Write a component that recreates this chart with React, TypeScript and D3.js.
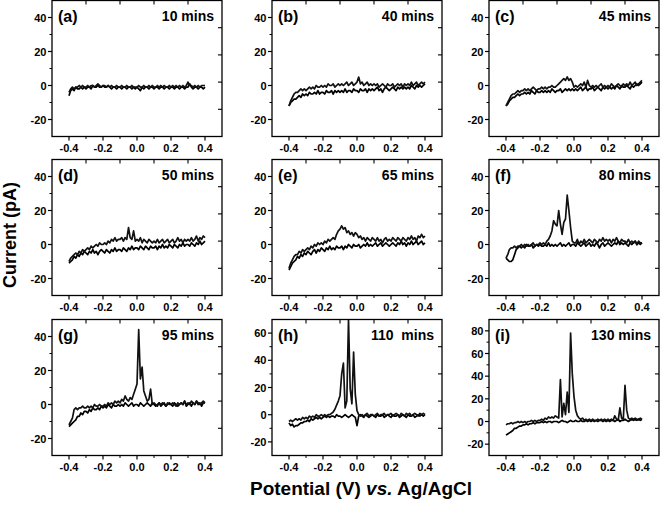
import React from "react";
import * as d3 from "d3";

// Potential grid (V), step 0.01 from -0.4 to 0.4
const POTENTIAL = d3.range(81).map((i) => +(-0.4 + i * 0.01).toFixed(2));

const PANEL_LABELS = ["(a)", "(b)", "(c)", "(d)", "(e)", "(f)", "(g)", "(h)", "(i)"];
const TIME_LABELS = ["10 mins", "40 mins", "45 mins", "50 mins", "65 mins", "80 mins", "95 mins", "110  mins", "130 mins"];
const Y_MAX = [50, 50, 50, 50, 50, 50, 50, 70, 90];
const Y_MIN = -30;
const X_MAJOR = [-0.4, -0.2, 0.0, 0.2, 0.4];
const X_MINOR = [-0.3, -0.1, 0.1, 0.3];

// forward (lower) and reverse (upper) scans, indexed along POTENTIAL
const aFwd = [-6,-3,-2,-3,-1,-2,-2,-1,-2,-1, -2,-1,-1,-2,0,-1,-1,0,-1,-1, 0,-1,-1,0,-1,-2,-1,-1,-2,-1, -1,-2,-1,-1,-2,-1,-1,-2,-1,-2, -1,-2,-3,-1,-2,-1,-1,-2,-1,-1, -2,-1,-1,-2,-1,-1,-2,-1,-1,-2, -1,-1,-2,-1,-1,-2,-1,-1,-2,-1, -1,1,-1,-2,-1,-1,-2,-1,-1,-2, -1];
const aRev = [-4,-2,-1,-2,-1,-1,0,-1,0,-1, -1,0,-1,0,0,-1,0,1,0,-1, 0,0,-1,0,-1,0,-1,-1,0,-1, -1,0,-1,-1,0,-1,-1,0,-1,-1, -1,0,-1,-1,0,-1,-1,0,-1,0, -1,-1,0,-1,0,-1,0,-1,-1,0, -1,0,-1,0,-1,0,-1,0,-1,0, 2,0,0,-1,0,-1,0,-1,0,0, 0];

const bFwd = [-12,-10,-9,-8,-8,-7,-6,-7,-5,-6, -5,-6,-4,-5,-5,-4,-5,-3,-5,-4, -4,-5,-3,-4,-4,-3,-5,-3,-4,-3, -4,-3,-4,-2,-4,-3,-3,-4,-2,-3, -3,-4,-2,-3,-3,-2,-4,-2,-3,-2, -3,-2,-1,-3,-2,-4,-2,-1,-2,-3, -2,-1,-2,-3,-1,-2,-1,-2,-1,-2, -1,-2,0,-1,-2,0,-1,0,-1,0, 1];
const bRev = [-12,-9,-7,-5,-4,-4,-3,-2,-3,-2, -3,-2,-1,-2,-1,-2,0,-1,-1,0, -1,0,-1,1,0,0,1,-1,0,1, 0,1,0,1,2,0,1,2,0,1, 2,5,1,2,0,1,2,0,1,0, 1,0,1,-1,0,1,0,-1,1,0, 0,1,-1,0,1,0,1,-1,1,0, 1,0,2,0,1,2,0,1,2,1, 2];

const cFwd = [-12,-11,-9,-8,-7,-7,-6,-5,-6,-5, -5,-4,-5,-4,-5,-3,-4,-5,-3,-4, -4,-3,-4,-3,-4,-3,-4,-2,-3,-4, -3,-3,-2,-4,-3,-2,-3,-2,-3,-2, -3,-2,-3,-2,-1,-3,-2,-1,-3,-2, -2,-1,-3,-2,-1,-2,-3,-1,-2,-1, -2,-1,-2,-1,-2,0,-1,-2,0,-1, -1,0,-1,-2,0,-1,0,1,0,1, 2];
const cRev = [-12,-10,-8,-6,-5,-5,-4,-3,-4,-3, -3,-2,-3,-2,-3,-2,-1,-2,-3,-2, -2,-1,-2,-1,-2,-1,-1,0,-1,-1, 0,1,2,3,4,3,5,3,4,2, -1,0,-1,0,1,0,2,-1,3,0, -1,0,-1,0,-1,0,1,-1,0,-1, 0,-1,1,0,-1,0,1,0,-1,1, 0,1,0,2,0,1,2,0,1,2, 3];

const dFwd = [-11,-10,-9,-7,-8,-6,-7,-5,-6,-4, -5,-6,-4,-5,-3,-5,-4,-6,-4,-3, -4,-5,-3,-4,-5,-3,-4,-2,-4,-3, -3,-4,-2,-3,-4,-2,-3,-1,-3,-2, -2,-3,-1,-2,-3,-1,-2,-3,-1,-2, -2,-1,-3,-1,-2,0,-2,-1,-2,0, -1,-2,0,-1,-2,0,-1,1,-1,0, 0,-1,1,0,-1,1,0,2,0,1, 2];
const dRev = [-10,-8,-7,-6,-5,-6,-4,-5,-3,-4, -3,-2,-3,-1,-2,-1,0,-1,1,0, 0,1,0,2,1,3,2,4,2,3, 3,4,2,4,3,10,4,3,8,2, 3,2,4,1,3,2,1,3,2,1, 2,1,3,1,2,3,1,2,3,1, 2,3,1,2,4,2,3,1,3,2, 3,2,4,2,3,5,2,4,3,5, 4];

const eFwd = [-15,-13,-11,-10,-9,-7,-8,-6,-7,-5, -6,-4,-5,-6,-4,-3,-5,-3,-4,-2, -3,-4,-2,-3,-1,-3,-2,-3,-1,-2, -2,-1,-3,-1,-2,0,-1,-2,0,-1, -1,0,-2,-1,0,-1,1,-1,0,-1, 0,1,-1,0,1,-1,0,1,0,-1, 0,1,0,-1,1,0,2,0,1,-1, 1,0,2,0,1,2,0,1,2,0, 1];
const eRev = [-14,-11,-9,-7,-6,-6,-4,-5,-3,-4, -3,-2,-3,-1,-2,0,-1,1,0,1, 0,2,1,3,2,3,4,3,6,8, 9,11,9,10,7,8,6,7,5,7, 6,4,5,3,4,2,4,3,2,4, 3,2,4,2,3,1,3,4,2,3, 2,4,3,2,4,3,2,4,3,2, 4,3,5,3,4,2,5,4,6,4, 5];

const fFwd = [-8,-9,-10,-10,-9,-6,-3,-2,-1,-2, -1,-2,0,-1,-1,0,-2,-1,0,-1, 0,-1,-1,0,-1,1,-1,0,-1,0, -1,0,1,-1,0,-1,0,1,-1,0, 0,-1,1,0,-1,0,1,-1,0,1, -1,0,-1,1,0,-2,0,1,-1,0, 1,0,-1,0,1,0,2,0,1,0, 1,0,-1,1,0,1,2,0,1,0, 1];
const fRev = [-8,-6,-3,-2,-2,-1,-2,-1,-1,0, -1,0,-1,0,-1,0,1,-1,0,0, 1,0,1,0,2,3,5,8,14,12, 11,20,12,6,13,15,29,20,10,2, 1,1,3,0,2,1,3,1,2,3, 2,1,3,2,1,3,2,4,2,3, 2,3,1,3,2,4,2,1,3,2, 2,1,3,1,2,1,2,0,2,1, 1];

const gFwd = [-13,-12,-11,-10,-9,-7,-7,-5,-6,-4, -4,-5,-3,-4,-2,-3,-3,-2,-3,-1, -2,-1,-2,0,-1,-2,0,-1,-1,0, -1,0,-1,1,0,-1,0,1,-1,0, 0,-1,1,0,-1,0,1,0,-1,1, 0,-1,0,1,-1,0,1,-1,0,1, 0,-1,1,0,-1,0,1,0,2,-1, 0,1,-1,1,0,2,0,1,-1,1, 1];
const gRev = [-12,-10,-8,-3,-2,-3,-2,-2,-1,-2, -2,-1,-2,-1,-2,0,-1,-1,0,-1, -1,0,-1,1,0,1,0,2,1,2, 1,3,2,5,3,2,4,3,6,9, 12,44,15,22,8,5,2,3,9,0, 1,0,-1,1,0,1,0,-1,1,0, 0,1,0,-1,1,0,1,0,2,0, 1,0,2,1,0,2,1,0,1,2, 1];

const hFwd = [-6,-8,-7,-9,-8,-8,-7,-6,-6,-5, -5,-4,-5,-3,-4,-3,-2,-3,-2,-3, -2,-1,-2,-1,-2,-1,-1,-2,0,-1, -1,-2,-1,0,-1,-2,-1,0,-1,-2, -8,-1,0,-1,-2,0,-1,-2,-1,0, -1,-2,0,-1,-1,0,-2,-1,0,-1, -2,0,-1,-1,0,-2,-1,0,-1,-2, 0,-1,-1,0,-2,-1,0,-1,0,-1, 0];
const hRev = [-5,-4,-5,-4,-3,-4,-3,-4,-2,-3, -2,-3,-1,-2,-1,-2,0,-1,-1,0, -1,0,-1,0,0,1,2,4,7,10, 14,30,38,5,10,70,19,8,46,15, 3,0,-1,0,-1,0,1,-1,0,0, -1,0,1,-1,0,0,1,-1,0,0, 1,-1,0,1,0,-1,1,0,-1,1, 0,1,-1,0,1,0,-1,1,0,1, 0];

const iFwd = [-12,-11,-10,-9,-8,-6,-6,-5,-4,-4, -3,-3,-2,-3,-2,-2,-1,-2,-1,-1, -1,0,-1,0,-1,0,0,-1,0,0, 0,-1,0,1,0,0,-1,0,1,0, 0,1,0,0,1,0,0,1,0,1, 0,1,0,1,0,1,1,0,1,0, 1,0,1,1,0,1,2,0,1,1, 2,1,0,1,2,1,2,1,2,1, 2];
const iRev = [-3,-2,-2,-1,-2,-1,-1,0,-1,0, -1,0,-1,0,0,1,0,1,0,1, 1,2,1,3,2,4,3,4,3,5, 4,3,37,4,16,6,26,8,78,42, 22,10,5,3,2,3,1,2,1,2, 1,2,1,1,2,1,2,1,2,1, 2,1,2,1,5,2,1,12,3,2, 32,10,3,2,3,2,3,2,2,3, 2];

const FORWARD = [aFwd, bFwd, cFwd, dFwd, eFwd, fFwd, gFwd, hFwd, iFwd];
const REVERSE = [aRev, bRev, cRev, dRev, eRev, fRev, gRev, hRev, iRev];

const COL_X = [52, 272, 489];
const ROW_Y = [0.5, 159.5, 319.5];
const PW = 170;
const PH = 136;
const FONT = "'Liberation Sans', Arial, Helvetica, sans-serif";

function Panel({ idx }: { idx: number }) {
  const x0 = COL_X[idx % 3];
  const y0 = ROW_Y[Math.floor(idx / 3)];
  const xs = d3.scaleLinear().domain([-0.5, 0.5]).range([0, PW]);
  const ys = d3.scaleLinear().domain([Y_MIN, Y_MAX[idx]]).range([PH, 0]);
  const yMajor = d3.range(-20, Y_MAX[idx], 20);
  const yMinor = d3.range(-10, Y_MAX[idx], 20);
  const fwd = POTENTIAL.map((p, i) => [p, FORWARD[idx][i]] as [number, number]);
  const rev = POTENTIAL.map((p, i) => [p, REVERSE[idx][i]] as [number, number]).reverse();
  const line = d3
    .line<[number, number]>()
    .x((d) => xs(d[0]))
    .y((d) => ys(d[1]));
  const frac = [0.2, 0.4, 0.6, 0.8];
  const clipId = `clip-${idx}`;
  return (
    <g transform={`translate(${x0},${y0})`}>
      <defs>
        <clipPath id={clipId}>
          <rect x={0} y={0} width={PW} height={PH} />
        </clipPath>
      </defs>
      <g clipPath={`url(#${clipId})`}>
        <path d={line(fwd) || ""} fill="none" stroke="#000" strokeWidth={1.7} strokeLinejoin="round" />
        <path d={line(rev) || ""} fill="none" stroke="#111" strokeWidth={1.7} strokeLinejoin="round" />
      </g>
      <rect x={0} y={0} width={PW} height={PH} fill="none" stroke="#000" strokeWidth={1.3} />
      {X_MAJOR.map((v) => (
        <g key={`xm${v}`}>
          <line x1={xs(v)} x2={xs(v)} y1={PH} y2={PH + 4} stroke="#000" strokeWidth={1.2} />
          <text x={xs(v)} y={PH + 15} textAnchor="middle" fontFamily={FONT} fontWeight="bold" fontSize={11}>
            {v.toFixed(1)}
          </text>
        </g>
      ))}
      {X_MINOR.map((v) => (
        <line key={`xn${v}`} x1={xs(v)} x2={xs(v)} y1={PH} y2={PH + 2.5} stroke="#000" strokeWidth={1} />
      ))}
      {yMajor.map((v) => (
        <g key={`ym${v}`}>
          <line x1={-4} x2={0} y1={ys(v)} y2={ys(v)} stroke="#000" strokeWidth={1.2} />
          <text x={-5.5} y={ys(v) + 4} textAnchor="end" fontFamily={FONT} fontWeight="bold" fontSize={11}>
            {v}
          </text>
        </g>
      ))}
      {yMinor.map((v) => (
        <line key={`yn${v}`} x1={-2.5} x2={0} y1={ys(v)} y2={ys(v)} stroke="#000" strokeWidth={1} />
      ))}
      {frac.map((f) => (
        <g key={`f${f}`}>
          <line x1={PW * f} x2={PW * f} y1={0} y2={4} stroke="#000" strokeWidth={1.1} />
          <line x1={PW - 4} x2={PW} y1={PH * f} y2={PH * f} stroke="#000" strokeWidth={1.1} />
        </g>
      ))}
      <text x={6} y={21} fontFamily={FONT} fontWeight="bold" fontSize={16}>
        {PANEL_LABELS[idx]}
      </text>
      <text x={PW - 8} y={20} textAnchor="end" fontFamily={FONT} fontWeight="bold" fontSize={14} style={{ whiteSpace: "pre" }}>
        {TIME_LABELS[idx]}
      </text>
    </g>
  );
}

export default function App() {
  return (
    <svg
      width={660}
      height={507}
      style={{ position: "absolute", left: 0, top: 0, background: "#fff" }}
    >
      <rect x={0} y={0} width={660} height={507} fill="#fff" />
      {PANEL_LABELS.map((_, i) => (
        <Panel key={i} idx={i} />
      ))}
      <text
        transform="translate(16,235) rotate(-90)"
        textAnchor="middle"
        fontFamily={FONT}
        fontWeight="bold"
        fontSize={18}
      >
        Current (pA)
      </text>
      <text x={361} y={495} textAnchor="middle" fontFamily={FONT} fontWeight="bold" fontSize={19}>
        Potential (V) <tspan fontStyle="italic">vs.</tspan> Ag/AgCl
      </text>
    </svg>
  );
}
